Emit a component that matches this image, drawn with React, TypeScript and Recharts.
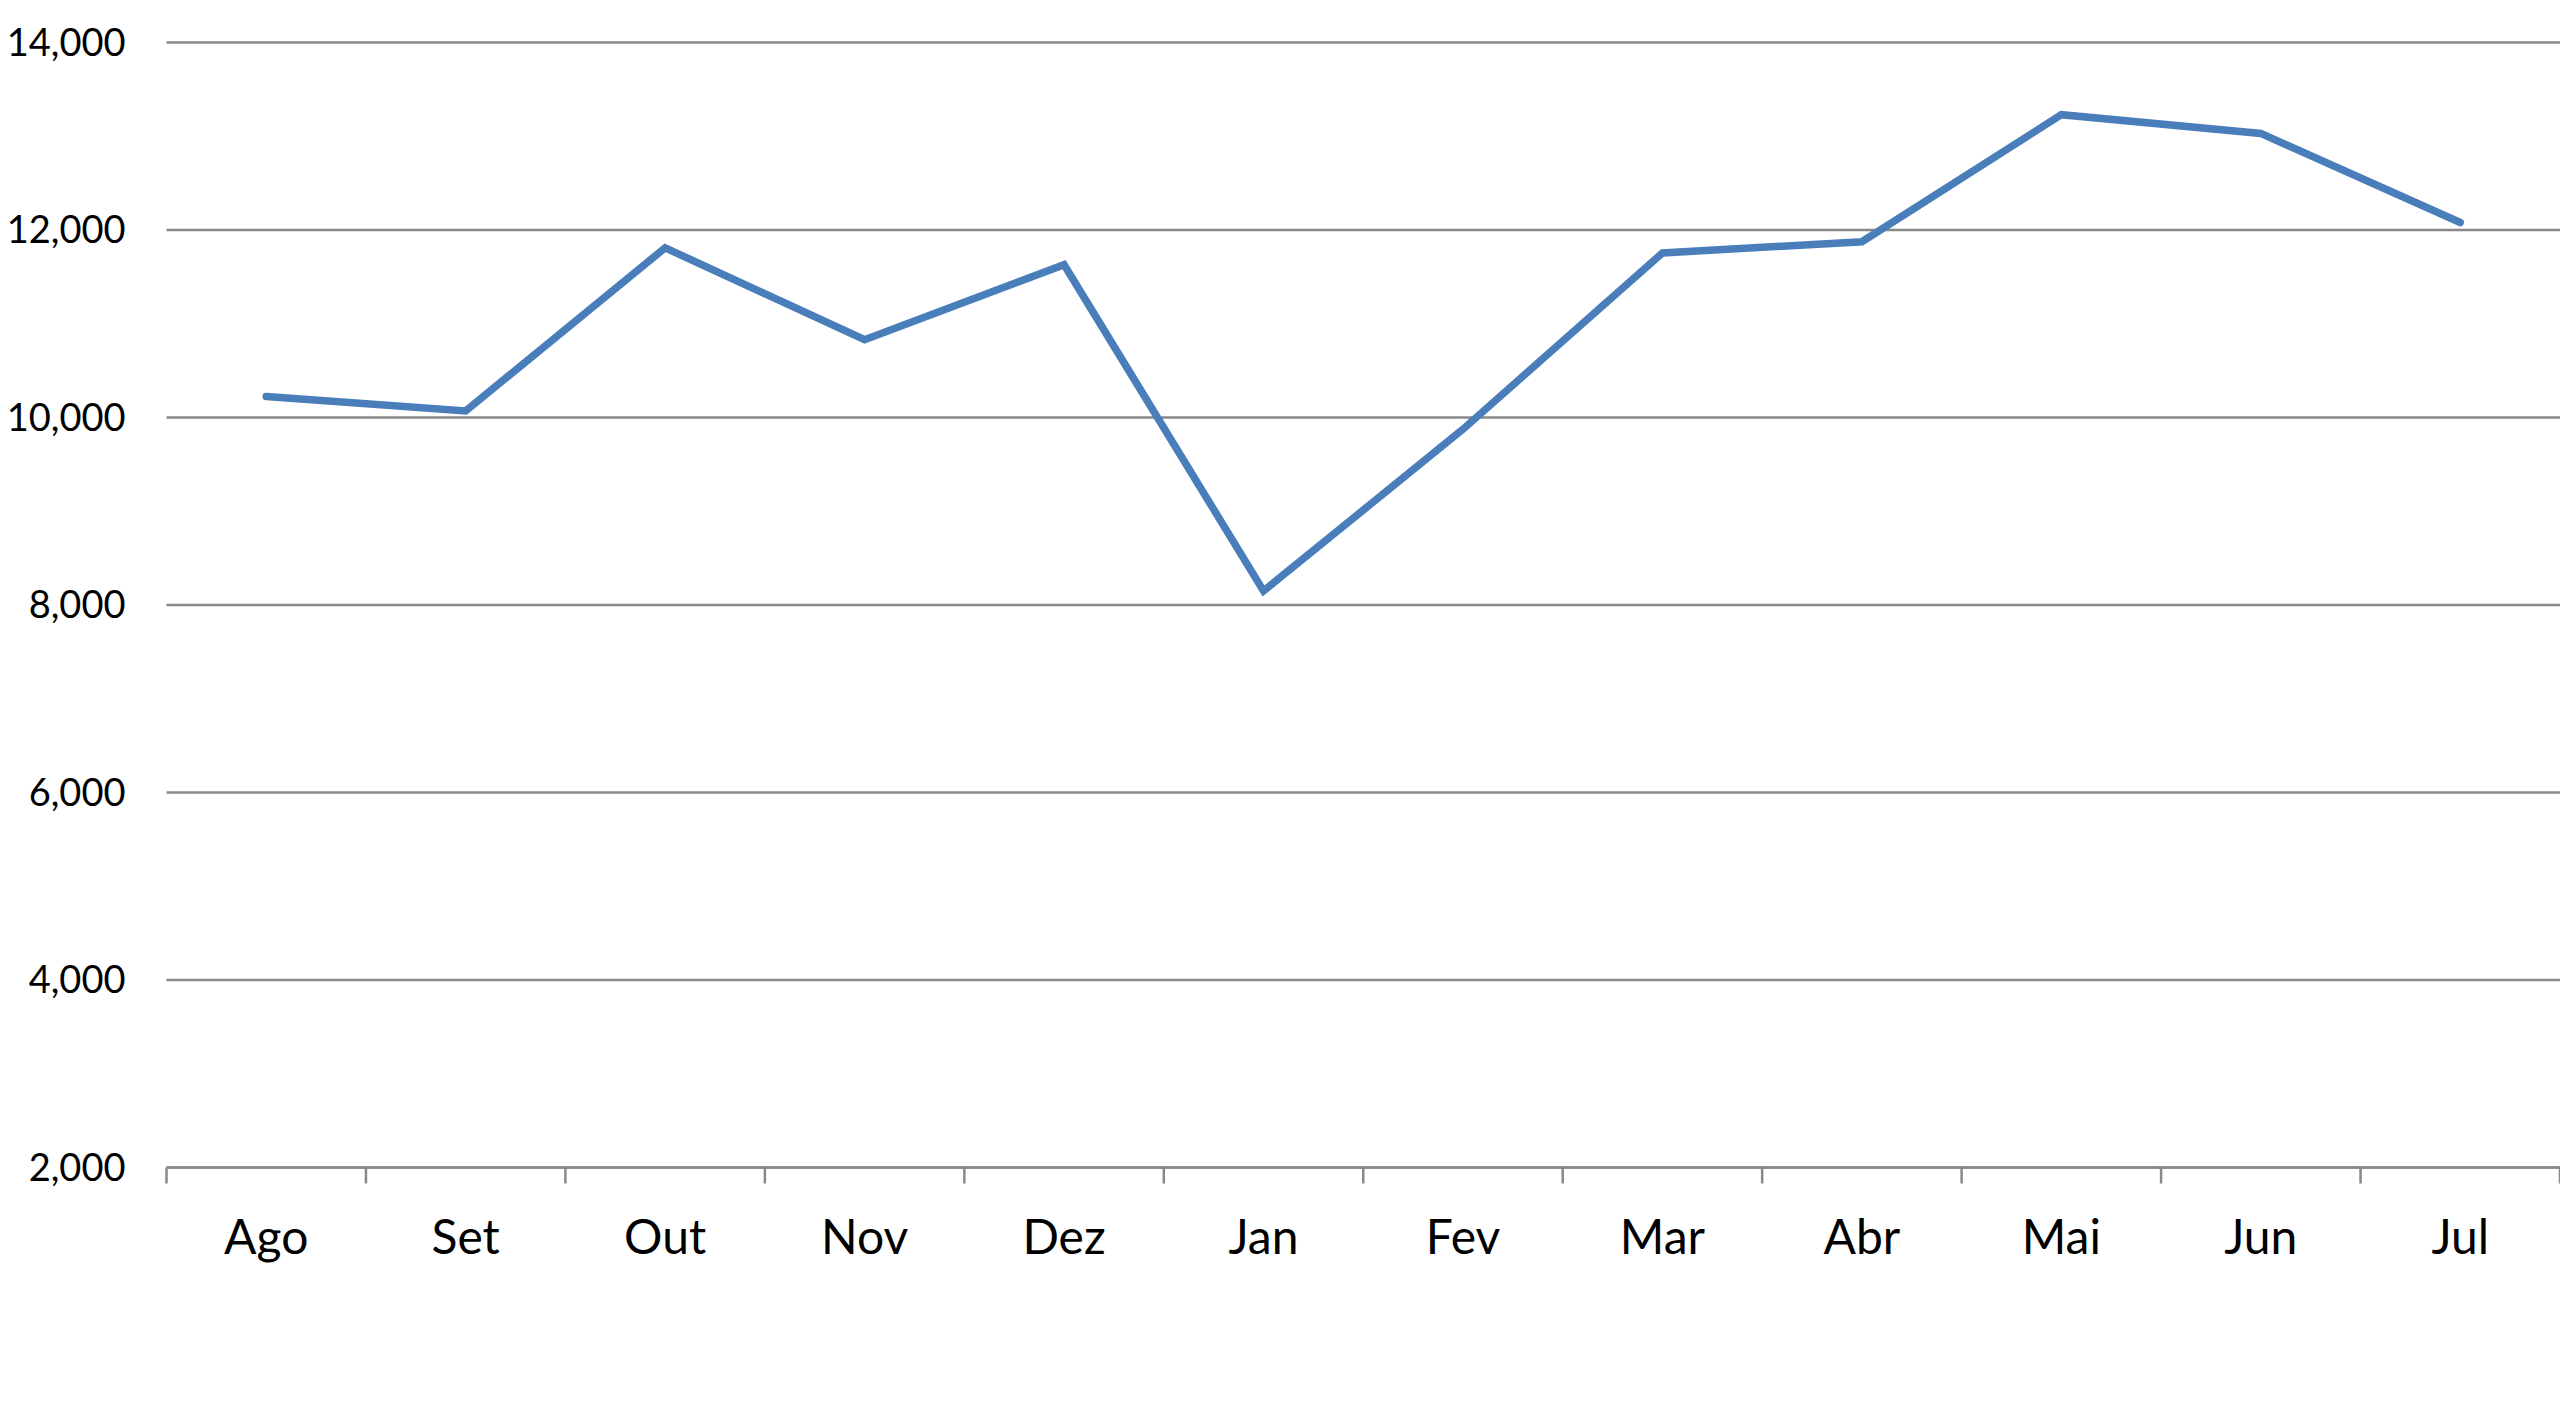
import { LineChart, Line, XAxis, YAxis, CartesianGrid } from "recharts";

const months = ["Ago", "Set", "Out", "Nov", "Dez", "Jan", "Fev", "Mar", "Abr", "Mai", "Jun", "Jul"];
const values = [10225, 10070, 11810, 10830, 11630, 8150, 9875, 11755, 11875, 13230, 13030, 12080];
const yTicks = [2000, 4000, 6000, 8000, 10000, 12000, 14000];

const data = months.map((month, i) => ({ month, value: values[i] }));

const GRID = "#898989";
const X_TICK_SIZE = 16;
const X_TICK_MARGIN = 36;

const formatThousands = (v: number) => v.toLocaleString("en-US");

// category label in the middle of the band, tick marks on the band edges (Excel style)
const MonthTick = (props: any) => {
  const { x, y, payload, index, visibleTicksCount } = props;
  const half = payload?.offset ?? 0;
  const axisY = y - X_TICK_SIZE - X_TICK_MARGIN;
  const isLast = index === visibleTicksCount - 1;
  return (
    <g>
      <line x1={x - half} x2={x - half} y1={axisY} y2={axisY + X_TICK_SIZE} stroke={GRID} strokeWidth={2.5} />
      {isLast && (
        <line x1={x + half} x2={x + half} y1={axisY} y2={axisY + X_TICK_SIZE} stroke={GRID} strokeWidth={2.5} />
      )}
      <text x={x} y={y} dy="0.71em" textAnchor="middle" fontSize={48} fill="#000" fontFamily="Lato">
        {payload.value}
      </text>
    </g>
  );
};

export default function App() {
  return (
    <div style={{ position: "absolute", left: 0, top: 0, width: 2560, height: 1408, background: "#fff" }}>
      <LineChart width={2560} height={1408} data={data} margin={{ top: 42.5, right: 0, bottom: 140.5, left: 0 }}>
        <CartesianGrid vertical={false} stroke={GRID} strokeWidth={2.5} />
        <XAxis
          dataKey="month"
          scale="band"
          height={100}
          axisLine={{ stroke: GRID, strokeWidth: 2.5 }}
          tickLine={false}
          tickSize={X_TICK_SIZE}
          tickMargin={X_TICK_MARGIN}
          tick={<MonthTick />}
          interval={0}
        />
        <YAxis
          domain={[2000, 14000]}
          ticks={yTicks}
          width={166.5}
          axisLine={false}
          tickLine={false}
          tickSize={0}
          tickMargin={41}
          tickFormatter={formatThousands}
          tick={{ fontSize: 38, fill: "#000", fontFamily: "Lato" }}
        />
        <Line
          type="linear"
          dataKey="value"
          stroke="#4A7EBB"
          strokeWidth={7.5}
          strokeLinecap="round"
          dot={false}
          isAnimationActive={false}
        />
      </LineChart>
    </div>
  );
}
